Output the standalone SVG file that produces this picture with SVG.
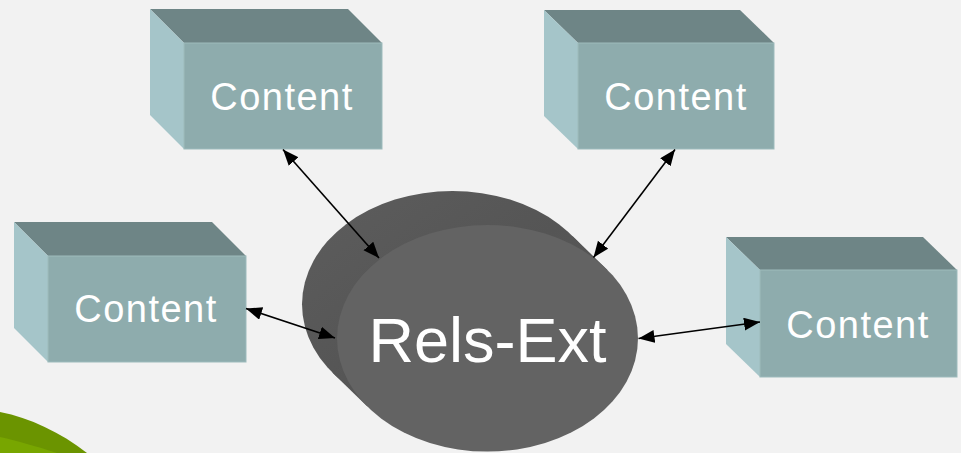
<svg xmlns="http://www.w3.org/2000/svg" width="961" height="453" viewBox="0 0 961 453">
  <defs>
    <style>
      .top{fill:#6e8586;}
      .side{fill:#a5c5c9;}
      .front{fill:#8eacad;stroke:#9dbbbc;stroke-width:1;}
      .lbl{font-family:"Liberation Sans",Arial,sans-serif;font-size:38px;fill:#ffffff;text-anchor:middle;letter-spacing:1.5px;}
      .big{font-family:"Liberation Sans",Arial,sans-serif;font-size:63px;fill:#ffffff;text-anchor:middle;}
      .conn{stroke:#000000;stroke-width:1.6;fill:none;marker-start:url(#ah);marker-end:url(#ah);}
    </style>
    <marker id="ah" markerUnits="userSpaceOnUse" markerWidth="17" markerHeight="14" refX="16" refY="6.5" orient="auto-start-reverse">
      <path d="M0,0 L16,6.5 L0,13 z" fill="#000000"/>
    </marker>
    <linearGradient id="ext" x1="0" y1="0" x2="1" y2="1">
      <stop offset="0" stop-color="#5d5d5d"/>
      <stop offset="0.5" stop-color="#555555"/>
      <stop offset="1" stop-color="#5e5e5e"/>
    </linearGradient>
  </defs>
  <rect x="0" y="0" width="961" height="453" fill="#f2f2f2"/>

  <g id="swoosh">
    <path d="M0,412 C30,418 60,432 87,453 L0,453 z" fill="#6b9400"/>
    <path d="M0,437 C18,441 35,446 57,453 L0,453 z" fill="#78a600"/>
  </g>

  <g id="rels-ext">
    <ellipse cx="452.5" cy="304.3" rx="150.5" ry="113.3" fill="url(#ext)"/>
    <polygon points="607.7,270.2 572.7,236.2 332.3,372.4 367.3,406.4" fill="url(#ext)"/>
    <ellipse cx="487.5" cy="338.3" rx="150.5" ry="113.3" fill="#636363"/>
    <text class="big" x="487.5" y="362">Rels-Ext</text>
  </g>

  <g id="content-top-left">
    <polygon class="top" points="150,9 348,9 382,43 184,43"/>
    <polygon class="side" points="150,9 184,43 184,149 150,115"/>
    <rect class="front" x="184" y="43" width="198" height="106"/>
    <text class="lbl" x="282" y="110">Content</text>
  </g>

  <g id="content-top-right">
    <polygon class="top" points="544,10 740,10 774,43 578,43"/>
    <polygon class="side" points="544,10 578,43 578,149 544,116"/>
    <rect class="front" x="578" y="43" width="196" height="106"/>
    <text class="lbl" x="676" y="110">Content</text>
  </g>

  <g id="content-left">
    <polygon class="top" points="14,222 212,222 246,256 48,256"/>
    <polygon class="side" points="14,222 48,256 48,362 14,328"/>
    <rect class="front" x="48" y="256" width="198" height="106"/>
    <text class="lbl" x="146" y="322">Content</text>
  </g>

  <g id="content-right">
    <polygon class="top" points="726,237 923,237 957,270 760,270"/>
    <polygon class="side" points="726,237 760,270 760,377 726,344"/>
    <rect class="front" x="760" y="270" width="197" height="107"/>
    <text class="lbl" x="858" y="338">Content</text>
  </g>

  <g id="connectors">
    <line class="conn" x1="283" y1="149.5" x2="379" y2="258"/>
    <line class="conn" x1="675" y1="149.5" x2="593.5" y2="257.5"/>
    <line class="conn" x1="246" y1="308.5" x2="335" y2="338"/>
    <line class="conn" x1="638.5" y1="338.5" x2="760" y2="322"/>
  </g>
</svg>
